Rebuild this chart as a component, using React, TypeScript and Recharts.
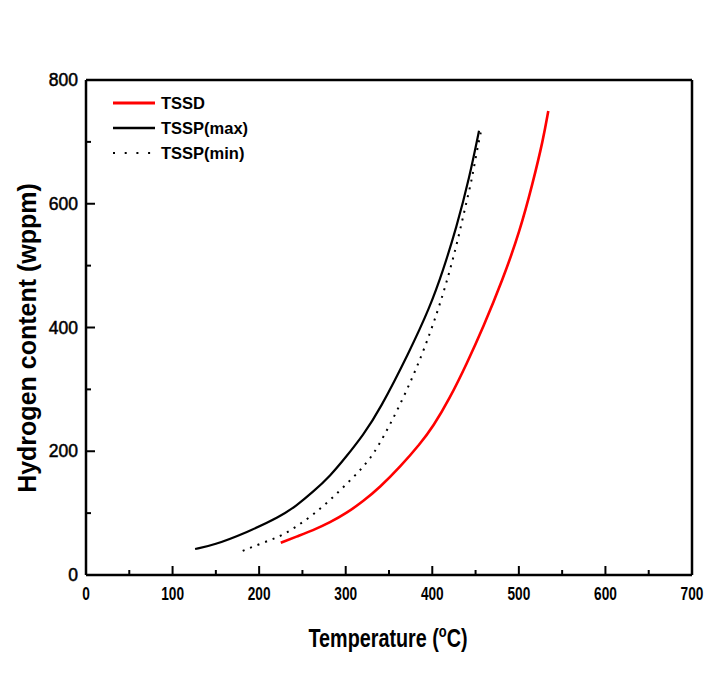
import React from 'react';
import { LineChart, Line, XAxis, YAxis, Legend } from 'recharts';

// ---- data ----
const tssdTemp = [225, 243, 262, 282, 301, 320, 339, 363, 386, 401, 420, 440, 459, 481, 501, 516, 528, 534];
const tssdH = [52, 62, 72, 85, 100, 119, 141, 175, 212, 240, 285, 342, 401, 476, 555, 633, 703, 750];

const maxTemp = [126, 147, 186, 224, 243, 262, 282, 301, 320, 339, 374, 397, 412, 428, 443, 454];
const maxH = [42, 48, 69, 94, 112, 134, 160, 192, 226, 266, 362, 432, 490, 562, 643, 718];

const minTemp = [181, 204, 224, 243, 262, 282, 301, 320, 336, 366, 389, 406, 418, 429, 440, 446, 451, 457];
const minH = [39, 52, 62, 78, 97, 121, 147, 174, 202, 283, 358, 425, 480, 538, 606, 641, 682, 722];

const xTicks = [0, 50, 100, 150, 200, 250, 300, 350, 400, 450, 500, 550, 600, 650, 700];
const yTicks = [0, 100, 200, 300, 400, 500, 600, 700, 800];

const seriesNames = ['TSSD', 'TSSP(max)', 'TSSP(min)'];
const seriesColors = ['#ff0000', '#000000', '#000000'];

const zip = (t: number[], h: number[]) => t.map((v, i) => ({ t: v, h: h[i] }));
const tssdData = zip(tssdTemp, tssdH);
const maxData = zip(maxTemp, maxH);
const minData = zip(minTemp, minH);

const FONT = '"Liberation Sans", Arial, Helvetica, sans-serif';

const XTick = (props: any) => {
  const { x, y, payload } = props;
  const v = payload.value;
  const major = v % 100 === 0;
  return (
    <g>
      <line x1={x} y1={y} x2={x} y2={y - (major ? 9 : 5)} stroke="#000" strokeWidth={2} />
      {major && (
        <text
          transform={`translate(${x},${y + 25}) scale(0.74,1)`}
          textAnchor="middle"
          fontFamily={FONT}
          fontSize={18.5}
          fontWeight="bold"
          fill="#000"
        >
          {v}
        </text>
      )}
    </g>
  );
};

const YTick = (props: any) => {
  const { x, y, payload } = props;
  const v = payload.value;
  const major = v % 200 === 0;
  return (
    <g>
      <line x1={x} y1={y} x2={x + (major ? 9 : 5)} y2={y} stroke="#000" strokeWidth={2} />
      {major && (
        <text x={x - 8} y={y + 6} textAnchor="end" fontFamily={FONT} fontSize={17.5} fill="#000"
          stroke="#000" strokeWidth={0.5}>
          {v}
        </text>
      )}
    </g>
  );
};

const XTitle = (props: any) => {
  const vb = props.viewBox || {};
  const cx = vb.x + vb.width / 2 - 1;
  const y = vb.y + 72;
  return (
    <text
      transform={`translate(${cx},${y}) scale(0.76,1)`}
      textAnchor="middle"
      fontFamily={FONT}
      fontSize={26}
      fontWeight="bold"
      fill="#000"
    >
      Temperature (
      <tspan dy={-10} fontSize={17}>o</tspan>
      <tspan dy={10}>C)</tspan>
    </text>
  );
};

const YTitle = () => (
  <text
    transform={`translate(36,338) rotate(-90)`}
    textAnchor="middle"
    fontFamily={FONT}
    fontSize={25}
    fontWeight="bold"
    fill="#000"
  >
    Hydrogen content (wppm)
  </text>
);

const LegendBox = () => (
  <svg width={180} height={76} style={{ display: 'block' }}>
    {seriesNames.map((name, i) => {
      const cy = 13 + i * 25;
      return (
        <g key={name}>
          <line
            x1={5}
            x2={i === 2 ? 49 : 47}
            y1={cy}
            y2={cy}
            stroke={seriesColors[i]}
            strokeWidth={i === 0 ? 3 : i === 1 ? 2.5 : 2}
            strokeDasharray={i === 2 ? '2 9.7' : undefined}
          />
          <text x={53} y={cy + 6} fontFamily={FONT} fontSize={16.5} fontWeight="bold" fill="#000">
            {name}
          </text>
        </g>
      );
    })}
  </svg>
);

export default function App() {
  return (
    <div style={{ position: 'absolute', left: 0, top: 0, width: 713, height: 689, background: '#fff' }}>
      <LineChart width={713} height={689} margin={{ top: 79, right: 20, left: 26, bottom: 54 }}>
        <XAxis
          dataKey="t"
          type="number"
          domain={[0, 700]}
          ticks={xTicks}
          interval={0}
          allowDataOverflow
          tickLine={false}
          tickSize={0}
          tickMargin={0}
          tick={<XTick />}
          height={60}
          axisLine={{ stroke: '#000', strokeWidth: 2.5 }}
          label={{ content: <XTitle /> }}
        />
        <XAxis
          xAxisId="top"
          orientation="top"
          dataKey="t"
          type="number"
          domain={[0, 700]}
          height={1}
          tick={false}
          tickLine={false}
          axisLine={{ stroke: '#000', strokeWidth: 2.5 }}
        />
        <YAxis
          type="number"
          domain={[0, 800]}
          ticks={yTicks}
          interval={0}
          allowDataOverflow
          tickLine={false}
          tickSize={0}
          tickMargin={0}
          tick={<YTick />}
          width={60}
          axisLine={{ stroke: '#000', strokeWidth: 2.5 }}
          label={{ content: <YTitle /> }}
        />
        <YAxis
          yAxisId="right"
          orientation="right"
          type="number"
          domain={[0, 800]}
          ticks={yTicks}
          interval={0}
          width={1}
          tick={false}
          tickSize={3}
          tickLine={{ stroke: '#000', strokeWidth: 1 }}
          axisLine={{ stroke: '#000', strokeWidth: 2.5 }}
        />
        <Legend
          layout="vertical"
          align="center"
          verticalAlign="middle"
          content={<LegendBox />}
          wrapperStyle={{ position: 'absolute', left: 108, top: 90, width: 180, height: 76 }}
        />
        <Line
          data={tssdData}
          dataKey="h"
          name={seriesNames[0]}
          type="basis"
          stroke={seriesColors[0]}
          strokeWidth={2.6}
          dot={false}
          isAnimationActive={false}
        />
        <Line
          data={maxData}
          dataKey="h"
          name={seriesNames[1]}
          type="basis"
          stroke={seriesColors[1]}
          strokeWidth={2.2}
          dot={false}
          isAnimationActive={false}
        />
        <Line
          data={minData}
          dataKey="h"
          name={seriesNames[2]}
          type="basis"
          stroke={seriesColors[2]}
          strokeWidth={2}
          strokeDasharray="2 6"
          dot={false}
          isAnimationActive={false}
        />
      </LineChart>
    </div>
  );
}
